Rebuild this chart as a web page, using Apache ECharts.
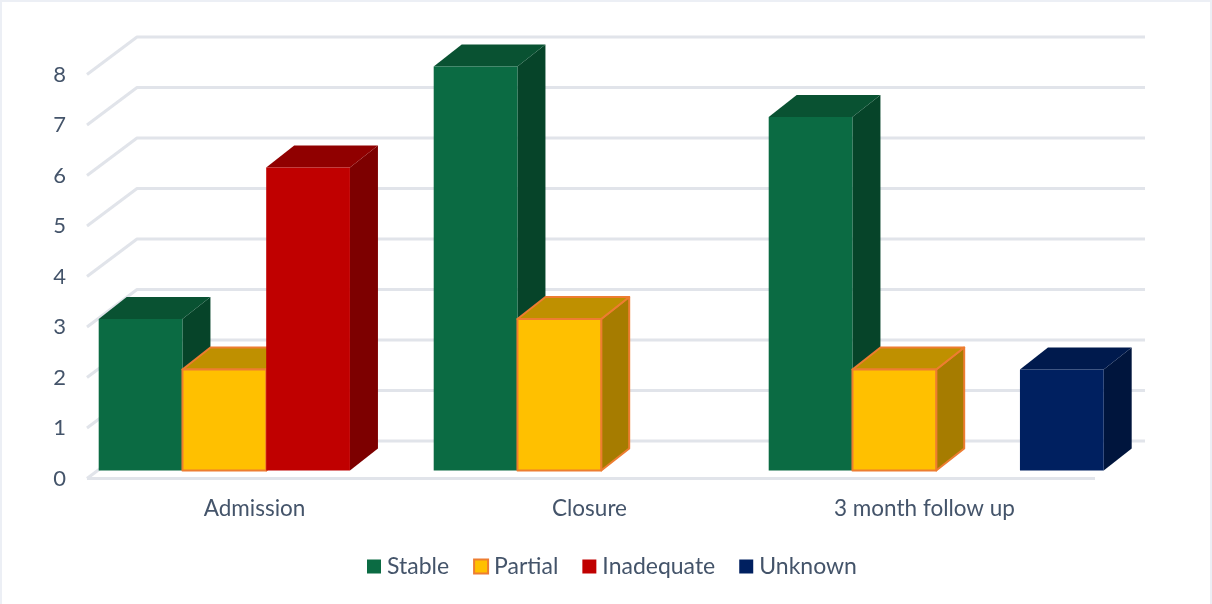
<!DOCTYPE html>
<html>
<head>
<meta charset="utf-8">
<style>
html,body{margin:0;padding:0;background:#fff}
#w{position:relative;width:1212px;height:604px;overflow:hidden}
#c{width:1212px;height:604px}
#f{position:absolute;left:0;top:0;right:0;bottom:0;box-sizing:border-box;border:2px solid #eceff5;border-bottom:none;pointer-events:none}
</style>
<script src="https://cdn.jsdelivr.net/npm/echarts@6/dist/echarts.min.js"></script>
</head>
<body>
<div id="w"><div id="c"></div><div id="f"></div></div>
<script>
const categories = ['Admission', 'Closure', '3 month follow up'];
const stable = [3, 8, 7];
const partial = [2, 3, 2];
const inadequate = [6, null, null];
const unknown = [null, null, 2];
const ticks = [0, 1, 2, 3, 4, 5, 6, 7, 8];

const FONT = 'Lato';
const TEXT = '#44546a';
const LINE = '#e1e4ea';
const WALL = [50, -37.5];
const BAR_DEPTH = [28, -22];
const BAR_OFFSET = [11.7, -8];
const SLOTS = 4;
const AXIS_EXTRA = 3;

function shade(front, top, side, edge, slot) {
  return function (params, api) {
    const v = api.value(1);
    if (v == null || isNaN(v)) return;
    const c = api.coord([api.value(0), v]);
    const base = api.coord([api.value(0), 0]);
    const band = api.size([1, 0])[0];
    const w = band / SLOTS;
    const x = c[0] - band / 2 + BAR_OFFSET[0] + slot * w;
    const yTop = c[1] + BAR_OFFSET[1];
    const yBase = base[1] + BAR_OFFSET[1];
    const dx = BAR_DEPTH[0], dy = BAR_DEPTH[1];
    const st = edge ? { stroke: edge, lineWidth: 2, lineJoin: 'round' } : { stroke: null };
    return {
      type: 'group',
      children: [
        { type: 'polygon', shape: { points: [[x + w, yTop], [x + w + dx, yTop + dy], [x + w + dx, yBase + dy], [x + w, yBase]] }, style: Object.assign({ fill: side }, st) },
        { type: 'polygon', shape: { points: [[x, yTop], [x + dx, yTop + dy], [x + w + dx, yTop + dy], [x + w, yTop]] }, style: Object.assign({ fill: top }, st) },
        { type: 'rect', shape: { x: x, y: yTop, width: w, height: yBase - yTop }, style: Object.assign({ fill: front }, st) }
      ]
    };
  };
}

function barSeries(name, values, front, top, side, edge, slot) {
  return {
    type: 'custom',
    name: name,
    coordinateSystem: 'cartesian2d',
    clip: false,
    z: 5,
    itemStyle: edge ? { color: front, borderColor: edge, borderWidth: 2 } : { color: front },
    encode: { x: 0, y: 1 },
    data: values.map((v, i) => [i, v]),
    renderItem: shade(front, top, side, edge, slot)
  };
}

const wallSeries = {
  type: 'custom',
  name: 'wall',
  coordinateSystem: 'cartesian2d',
  clip: false,
  z: 1,
  silent: true,
  encode: { x: 0, y: 1 },
  data: ticks.map(t => [0, t]),
  renderItem: function (params, api) {
    const tick = api.value(1);
    const y = api.coord([0, tick])[1];
    const cs = params.coordSys;
    const right = cs.x + cs.width + AXIS_EXTRA;
    const style = { stroke: LINE, lineWidth: 3, fill: null, lineJoin: 'round' };
    const children = [{
      type: 'polyline',
      shape: { points: [[cs.x, y], [cs.x + WALL[0], y + WALL[1]], [right + WALL[0], y + WALL[1]]] },
      style: style
    }];
    if (tick === 0) {
      children.push({ type: 'polyline', shape: { points: [[cs.x, y], [right, y]] }, style: style });
    }
    return { type: 'group', children: children };
  }
};

const chart = echarts.init(document.getElementById('c'), null, { renderer: 'canvas' });
chart.setOption({
  animation: false,
  backgroundColor: '#ffffff',
  grid: { left: 87, right: 120, top: 74.5, bottom: 125.5, containLabel: false },
  legend: {
    data: ['Stable', 'Partial', 'Inadequate', 'Unknown'],
    top: 550,
    left: 362,
    icon: 'rect',
    itemWidth: 14,
    itemHeight: 14,
    itemGap: 24,
    textStyle: { fontFamily: FONT, fontSize: 23, color: TEXT, padding: [0, 0, 0, 1] }
  },
  xAxis: {
    type: 'category',
    data: categories,
    axisTick: { show: false },
    axisLine: { show: false },
    axisLabel: { fontFamily: FONT, fontSize: 22.5, color: TEXT, margin: 19 },
    splitLine: { show: false }
  },
  yAxis: {
    type: 'value',
    min: 0,
    max: 8,
    interval: 1,
    axisLine: { show: false },
    axisTick: { show: false },
    splitLine: { show: false },
    axisLabel: { fontFamily: FONT, fontSize: 22, color: TEXT, margin: 21, padding: [3, 0, 0, 0] }
  },
  series: [
    wallSeries,
    barSeries('Stable', stable, '#0b6b43', '#095232', '#064429', null, 0),
    barSeries('Partial', partial, '#ffc000', '#bf9000', '#a67c00', '#ed7d31', 1),
    barSeries('Inadequate', inadequate, '#c00000', '#900000', '#7d0000', null, 2),
    barSeries('Unknown', unknown, '#002060', '#001a4d', '#00153d', null, 3)
  ]
});
</script>
</body>
</html>
